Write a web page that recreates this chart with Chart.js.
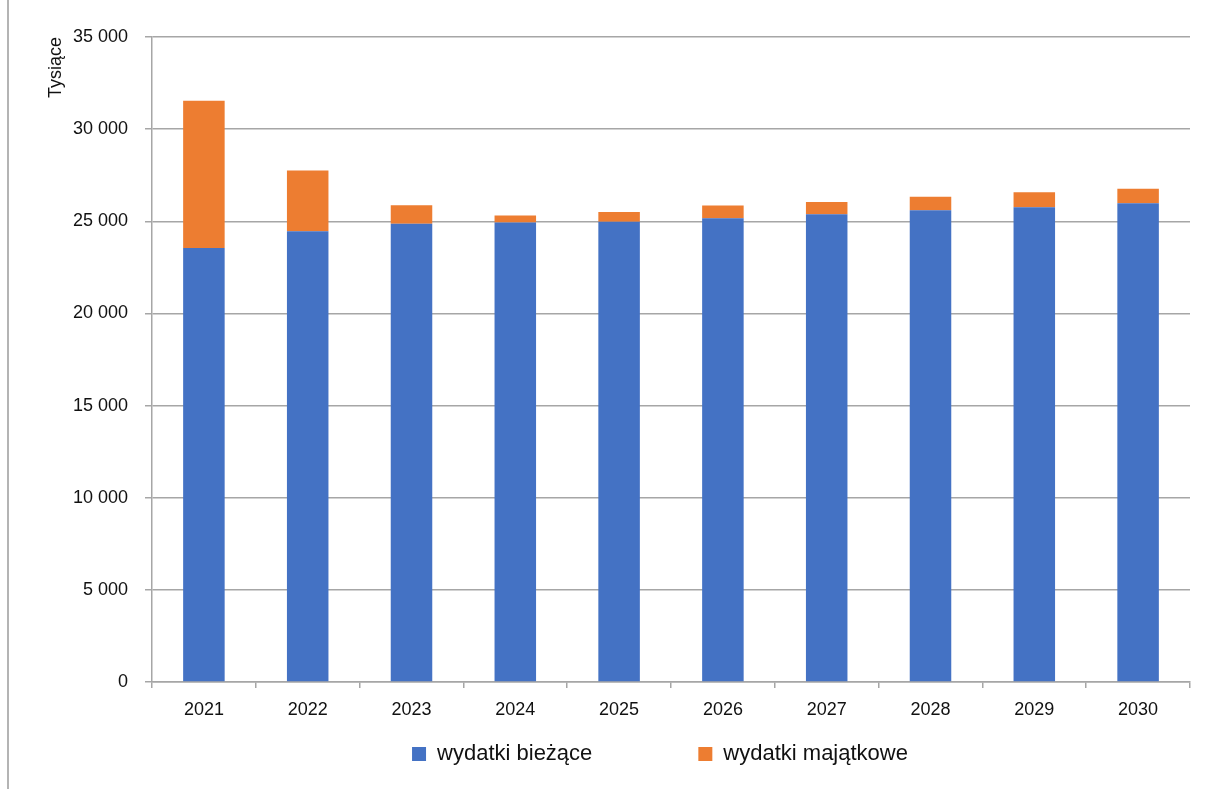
<!DOCTYPE html>
<html>
<head>
<meta charset="utf-8">
<script src="https://cdn.jsdelivr.net/npm/chart.js@4/dist/chart.umd.min.js"></script>
<style>
  html, body { margin: 0; padding: 0; background: #fff; }
  #wrap { position: relative; width: 1212px; height: 789px; }
  #frame { position: absolute; left: 7px; top: 0; width: 2px; height: 789px; background: #b4b4b4; }
</style>
</head>
<body>
<div id="wrap">
  <div id="frame"></div>
  <canvas id="myChart" width="1212" height="789"></canvas>
</div>
<script>
// values (thousands of PLN)
const years = ['2021', '2022', '2023', '2024', '2025', '2026', '2027', '2028', '2029', '2030'];
const biezace = [23550, 24460, 24860, 24930, 24980, 25160, 25380, 25600, 25760, 25980];
const majatkowe = [7990, 3300, 1010, 380, 520, 690, 670, 730, 820, 780];
const seriesNames = ['wydatki bieżące', 'wydatki majątkowe'];

const FONT = "'Liberation Sans', Arial, sans-serif";
const gridGray = '#a6a6a6';
const legendGap = 106;

// "35000" -> "35 000"
function fmt(v) {
    return String(v).replace(/\B(?=(\d{3})+(?!\d))/g, ' ');
}

// the legend's label padding is used both as the gap between items and above them,
// so move the legend box after layout to get a wide gap but keep it close to the axis
const legendPlacer = {
    id: 'legendPlacer',
    afterLayout(chart) {
        const lg = chart.legend;
        if (!lg) return;
        lg.top = 743 - legendGap;
        lg.left += 60;
        lg.right += 60;
    }
};

const ctx = document.getElementById('myChart').getContext('2d');
const myChart = new Chart(ctx, {
    type: 'bar',
    data: {
        labels: years,
        datasets: [{
            label: seriesNames[0],
            data: biezace,
            backgroundColor: '#4472c4',
            barPercentage: 0.4,
            categoryPercentage: 1
        }, {
            label: seriesNames[1],
            data: majatkowe,
            backgroundColor: '#ed7d31',
            barPercentage: 0.4,
            categoryPercentage: 1
        }]
    },
    plugins: [legendPlacer],
    options: {
        responsive: false,
        animation: false,
        layout: {
            padding: { left: 10, right: 22, top: 37, bottom: 17 }
        },
        plugins: {
            tooltip: { enabled: false },
            legend: {
                position: 'bottom',
                maxHeight: 45,
                labels: {
                    color: '#111',
                    font: { family: FONT, size: 22 },
                    boxWidth: 14,
                    boxHeight: 14,
                    padding: legendGap
                }
            }
        },
        scales: {
            x: {
                stacked: true,
                afterFit: (scale) => { scale.height = 45; },
                grid: {
                    drawOnChartArea: false,
                    drawTicks: true,
                    tickLength: 6,
                    color: gridGray,
                    lineWidth: 1.5
                },
                border: { color: gridGray, width: 1.5 },
                ticks: {
                    color: '#111',
                    padding: 11,
                    font: { family: FONT, size: 18 }
                }
            },
            y: {
                stacked: true,
                min: 0,
                max: 35000,
                afterFit: (scale) => { scale.width = 142; },
                ticks: {
                    stepSize: 5000,
                    color: '#111',
                    padding: 17,
                    font: { family: FONT, size: 18 },
                    callback: (v) => fmt(v)
                },
                grid: {
                    color: gridGray,
                    lineWidth: 1.5,
                    tickLength: 7
                },
                border: { color: gridGray, width: 1.5 },
                title: {
                    display: true,
                    text: 'Tysiące',
                    align: 'end',
                    color: '#111',
                    font: { family: FONT, size: 18 },
                    padding: { top: 35, bottom: 0 }
                }
            }
        }
    }
});
</script>
</body>
</html>
